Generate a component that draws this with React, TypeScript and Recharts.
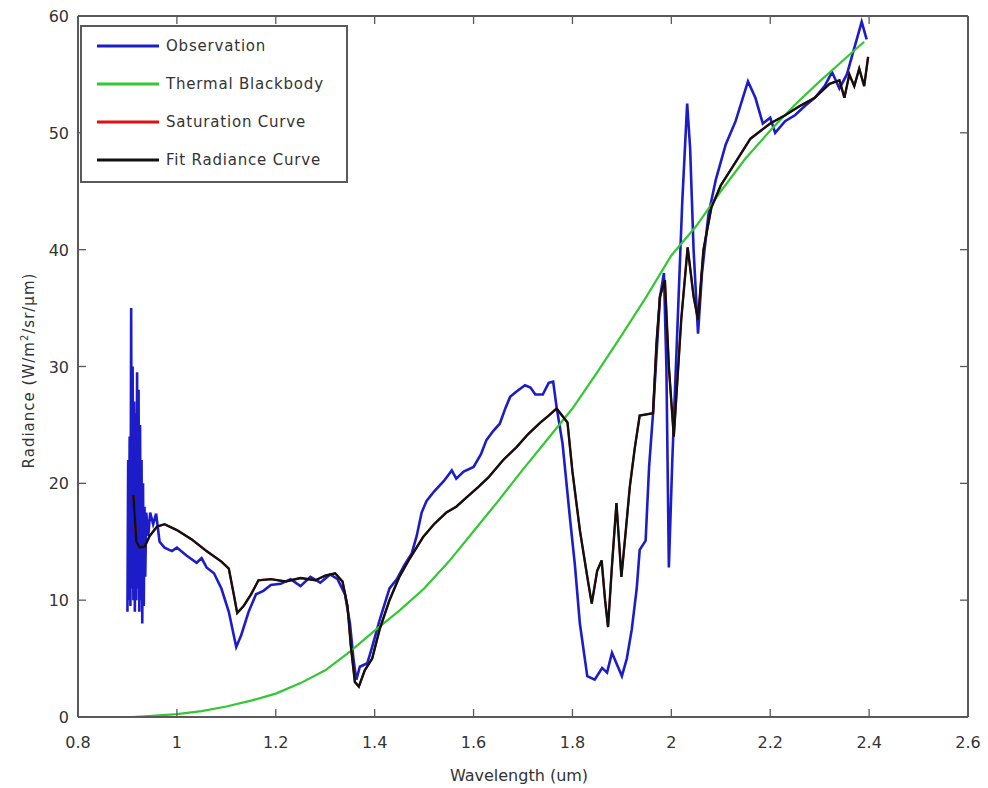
import React from 'react';
import { LineChart, Line, XAxis, YAxis, Legend } from 'recharts';

const wavelengthTicks = [0.8, 1, 1.2, 1.4, 1.6, 1.8, 2, 2.2, 2.4, 2.6];
const radianceTicks = [0, 10, 20, 30, 40, 50, 60];
const legendOrder = ['Observation', 'Thermal Blackbody', 'Saturation Curve', 'Fit Radiance Curve'];

const obsWavelength = [
  0.9, 0.9015, 0.903, 0.9045, 0.906, 0.9075, 0.909, 0.9105, 0.912, 0.9135, 0.915, 0.9165, 0.918, 0.9195,
  0.921, 0.9225, 0.924, 0.9255, 0.927, 0.9285, 0.93, 0.9315, 0.933, 0.9345, 0.936, 0.938, 0.942, 0.946,
  0.952, 0.958, 0.965, 0.975, 0.99, 1.0, 1.02, 1.04, 1.05, 1.06, 1.075, 1.09, 1.105, 1.12, 1.13, 1.145, 1.16,
  1.175, 1.19, 1.21, 1.23, 1.25, 1.27, 1.29, 1.31, 1.325, 1.34, 1.35, 1.357, 1.363, 1.37, 1.385, 1.395, 1.41,
  1.43, 1.445, 1.46, 1.475, 1.485, 1.495, 1.505, 1.52, 1.54, 1.556, 1.565, 1.58, 1.6, 1.615, 1.626, 1.64, 1.653,
  1.665, 1.674, 1.685, 1.704, 1.715, 1.725, 1.74, 1.752, 1.761, 1.768, 1.78, 1.795, 1.805, 1.815, 1.83, 1.845,
  1.86, 1.87, 1.88, 1.89, 1.9, 1.91, 1.92, 1.93, 1.936, 1.948, 1.955, 1.963, 1.97, 1.977, 1.985, 1.99, 1.995,
  2.002, 2.012, 2.022, 2.032, 2.038, 2.045, 2.054, 2.062, 2.075, 2.09, 2.11, 2.13, 2.155, 2.17, 2.185, 2.2, 2.21,
  2.23, 2.25, 2.27, 2.29, 2.31, 2.325, 2.34, 2.355, 2.365, 2.375, 2.385, 2.395,
];
const obsRadiance = [
  9, 22, 10, 24, 9.5, 35, 11, 30, 10, 27, 9, 26, 10, 29.5,
  11, 28, 9, 25, 10, 22, 8, 20, 9.5, 18, 12, 17.5, 15.5, 17.5,
  16.5, 17.4, 15, 14.5, 14.2, 14.5, 13.8, 13.2, 13.6, 12.8, 12.3, 11, 9, 6, 7, 9, 10.5,
  10.8, 11.3, 11.4, 11.8, 11.2, 12, 11.5, 12.2, 11.8, 10.5, 8, 5, 3.2, 4.3, 4.6, 6, 8.3,
  11, 11.8, 13, 14, 15.5, 17.5, 18.5, 19.3, 20.2, 21.1, 20.4, 21, 21.4, 22.5, 23.7, 24.5, 25.1,
  26.5, 27.4, 27.8, 28.4, 28.2, 27.6, 27.6, 28.6, 28.7, 26.5, 23.4, 17, 13, 8, 3.5, 3.2,
  4.2, 3.8, 5.5, 4.5, 3.5, 5, 7.5, 11, 14.3, 15.1, 21.4, 26, 31, 35.9, 38, 30, 12.8,
  22, 33, 44, 52.5, 48.7, 40, 32.8, 38, 43, 46, 49, 51, 54.4, 53, 50.8, 51.3, 50,
  51, 51.5, 52.3, 53, 54, 55.2, 53.8, 55, 56.5, 58, 59.5, 58,
];

const blackbodyWavelength = [
  0.91, 0.95, 1.0, 1.05, 1.1, 1.15, 1.2, 1.25, 1.3, 1.35, 1.4, 1.45, 1.5, 1.55, 1.6, 1.65,
  1.7, 1.75, 1.8, 1.85, 1.9, 1.95, 2.0, 2.05, 2.1, 2.15, 2.2, 2.25, 2.3, 2.35, 2.39,
];
const blackbodyRadiance = [
  0, 0.1, 0.25, 0.5, 0.9, 1.4, 2, 2.9, 4, 5.6, 7.4, 9.1, 11, 13.3, 15.9, 18.5,
  21.2, 23.8, 26.4, 29.5, 32.7, 36, 39.5, 42, 45, 47.8, 50.2, 52.4, 54.4, 56.3, 57.8,
];

const fitWavelength = [
  0.912, 0.918, 0.925, 0.935, 0.945, 0.96, 0.975, 1.0, 1.03, 1.06, 1.09, 1.105, 1.115, 1.122, 1.135, 1.15,
  1.165, 1.19, 1.22, 1.25, 1.28, 1.3, 1.32, 1.335, 1.345, 1.352, 1.36, 1.368, 1.38, 1.395, 1.41, 1.43,
  1.45, 1.47, 1.498, 1.52, 1.545, 1.565, 1.586, 1.61, 1.63, 1.66, 1.687, 1.71, 1.735, 1.752, 1.768, 1.79,
  1.8, 1.815, 1.83, 1.839, 1.85, 1.859, 1.866, 1.872, 1.88, 1.889, 1.899, 1.908, 1.916, 1.926, 1.936, 1.963,
  1.97, 1.977, 1.987, 1.995, 2.005, 2.02, 2.033, 2.045, 2.054, 2.065, 2.081, 2.1, 2.13, 2.16, 2.2, 2.23,
  2.26, 2.29, 2.32, 2.34, 2.35, 2.36, 2.37, 2.38, 2.39, 2.398,
];
const fitRadiance = [
  19, 15, 14.5, 14.6, 15.5, 16.3, 16.5, 16, 15.2, 14.2, 13.3, 12.7, 10.5, 8.9, 9.5, 10.5,
  11.7, 11.8, 11.6, 11.9, 11.7, 12.1, 12.3, 11.6, 9.5, 6, 3, 2.6, 4, 5, 7.5, 10,
  12, 13.5, 15.4, 16.5, 17.5, 18, 18.8, 19.7, 20.5, 22, 23.1, 24.2, 25.2, 25.8, 26.4, 25.2,
  21, 16, 12, 9.7, 12.5, 13.4, 10, 7.7, 13, 18.3, 12, 16, 19.7, 23, 25.8, 26,
  32, 36, 37.4, 30, 24, 34, 40.2, 36, 34, 40, 43.6, 45.5, 47.5, 49.5, 50.8, 51.5,
  52.3, 53, 54.2, 54.5, 53, 55, 54, 55.5, 54, 56.5,
];

// Saturation curve lies beneath the fit curve in the figure
const saturationWavelength = fitWavelength;
const saturationRadiance = fitRadiance;

const toPoints = (xs: number[], ys: number[]) => xs.map((x, i) => ({ x, y: ys[i] }));
const obsData = toPoints(obsWavelength, obsRadiance);
const blackbodyData = toPoints(blackbodyWavelength, blackbodyRadiance);
const saturationData = toPoints(saturationWavelength, saturationRadiance);
const fitData = toPoints(fitWavelength, fitRadiance);

const FONT = '"DejaVu Sans", "Liberation Sans", Arial, sans-serif';
const TEXT = '#333';
const FRAME = '#5a5a5a';

const BottomTick = (props: any) => {
  const { x, y, payload } = props;
  return (
    <g>
      <line x1={x} y1={y} x2={x} y2={y - 8} stroke={FRAME} strokeWidth={1.3} />
      <text x={x} y={y + 31} textAnchor="middle" fontFamily={FONT} fontSize={16} fill={TEXT}>
        {String(payload.value)}
      </text>
    </g>
  );
};
const TopTick = (props: any) => {
  const { x, y } = props;
  return <line x1={x} y1={y} x2={x} y2={y + 8} stroke={FRAME} strokeWidth={1.3} />;
};
const LeftTick = (props: any) => {
  const { x, y, payload } = props;
  return (
    <g>
      <line x1={x} y1={y} x2={x + 8} y2={y} stroke={FRAME} strokeWidth={1.3} />
      <text x={x - 9} y={y + 6} textAnchor="end" fontFamily={FONT} fontSize={16} fill={TEXT}>
        {String(payload.value)}
      </text>
    </g>
  );
};
const RightTick = (props: any) => {
  const { x, y } = props;
  return <line x1={x} y1={y} x2={x - 8} y2={y} stroke={FRAME} strokeWidth={1.3} />;
};

const XLabel = (props: any) => {
  const vb = props.viewBox || { x: 78, y: 717, width: 890 };
  return (
    <text x={vb.x + vb.width / 2 - 4} y={vb.y + 64} textAnchor="middle" fontFamily={FONT} fontSize={16} fill={TEXT}>
      Wavelength (um)
    </text>
  );
};
const YLabel = (props: any) => {
  const vb = props.viewBox || { x: 20, y: 16, width: 58, height: 701 };
  const cx = 34;
  const cy = vb.y + vb.height / 2 + 4;
  return (
    <text
      x={cx}
      y={cy}
      transform={`rotate(-90 ${cx} ${cy})`}
      textAnchor="middle"
      fontFamily={FONT}
      fontSize={15}
      letterSpacing={1}
      fill={TEXT}
    >
      Radiance (W/m
      <tspan dy={-6} fontSize={10}>2</tspan>
      <tspan dy={6}>/sr/µm)</tspan>
    </text>
  );
};

const renderLegend = (props: any) => {
  const raw = props.payload || [];
  const items = legendOrder
    .map((name) => raw.find((it: any) => it.value === name))
    .filter(Boolean);
  return (
    <div
      style={{
        width: 268,
        height: 158,
        boxSizing: 'border-box',
        border: `2px solid ${FRAME}`,
        background: '#fff',
        position: 'relative',
        fontFamily: FONT,
        fontSize: 15,
        color: TEXT,
      }}
    >
      {items.map((it: any, i: number) => (
        <div
          key={i}
          style={{
            position: 'absolute',
            left: 15,
            top: 19 + i * 38 - 10,
            height: 20,
            display: 'flex',
            alignItems: 'center',
            whiteSpace: 'nowrap',
          }}
        >
          <svg width={62} height={6} style={{ display: 'block' }}>
            <line x1={0} y1={3} x2={62} y2={3} stroke={it.color} strokeWidth={3} />
          </svg>
          <span style={{ marginLeft: 7, letterSpacing: 0.8 }}>{it.value}</span>
        </div>
      ))}
    </div>
  );
};

export default function App() {
  return (
    <div style={{ position: 'absolute', left: 0, top: 0, width: 988, height: 788, background: '#fff' }}>
      <LineChart width={988} height={788} margin={{ top: 6, right: 10, bottom: 21, left: 20 }}>
        <XAxis
          xAxisId="b"
          type="number"
          dataKey="x"
          domain={[0.8, 2.6]}
          ticks={wavelengthTicks}
          interval={0}
          allowDataOverflow
          orientation="bottom"
          height={50}
          tickSize={0}
          tickMargin={0}
          axisLine={{ stroke: FRAME, strokeWidth: 2 }}
          tickLine={false}
          tick={<BottomTick />}
          label={{ content: <XLabel /> } as any}
        />
        <XAxis
          xAxisId="t"
          type="number"
          dataKey="x"
          domain={[0.8, 2.6]}
          ticks={wavelengthTicks}
          interval={0}
          allowDataOverflow
          orientation="top"
          height={10}
          tickSize={0}
          tickMargin={0}
          axisLine={{ stroke: FRAME, strokeWidth: 2 }}
          tickLine={false}
          tick={<TopTick />}
        />
        <YAxis
          yAxisId="l"
          type="number"
          domain={[0, 60]}
          ticks={radianceTicks}
          interval={0}
          allowDataOverflow
          orientation="left"
          width={58}
          tickSize={0}
          tickMargin={0}
          axisLine={{ stroke: FRAME, strokeWidth: 2 }}
          tickLine={false}
          tick={<LeftTick />}
          label={{ content: <YLabel /> } as any}
        />
        <YAxis
          yAxisId="r"
          type="number"
          domain={[0, 60]}
          ticks={radianceTicks}
          interval={0}
          allowDataOverflow
          orientation="right"
          width={10}
          tickSize={0}
          tickMargin={0}
          axisLine={{ stroke: FRAME, strokeWidth: 2 }}
          tickLine={false}
          tick={<RightTick />}
        />
        <Legend
          layout="vertical"
          align="center"
          verticalAlign="middle"
          wrapperStyle={{ position: 'absolute', left: 80, top: 25, width: 268, height: 158 }}
          content={renderLegend}
        />
        <Line
          xAxisId="b"
          yAxisId="l"
          data={obsData}
          dataKey="y"
          name="Observation"
          type="linear"
          stroke="#1c1cc8"
          strokeWidth={2.6}
          dot={false}
          activeDot={false}
          isAnimationActive={false}
        />
        <Line
          xAxisId="b"
          yAxisId="l"
          data={blackbodyData}
          dataKey="y"
          name="Thermal Blackbody"
          type="linear"
          stroke="#33c833"
          strokeWidth={2.2}
          dot={false}
          activeDot={false}
          isAnimationActive={false}
        />
        <Line
          xAxisId="b"
          yAxisId="l"
          data={saturationData}
          dataKey="y"
          name="Saturation Curve"
          type="linear"
          stroke="#e01010"
          strokeWidth={2}
          dot={false}
          activeDot={false}
          isAnimationActive={false}
        />
        <Line
          xAxisId="b"
          yAxisId="l"
          data={fitData}
          dataKey="y"
          name="Fit Radiance Curve"
          type="linear"
          stroke="#111"
          strokeWidth={2.4}
          dot={false}
          activeDot={false}
          isAnimationActive={false}
        />
      </LineChart>
    </div>
  );
}
